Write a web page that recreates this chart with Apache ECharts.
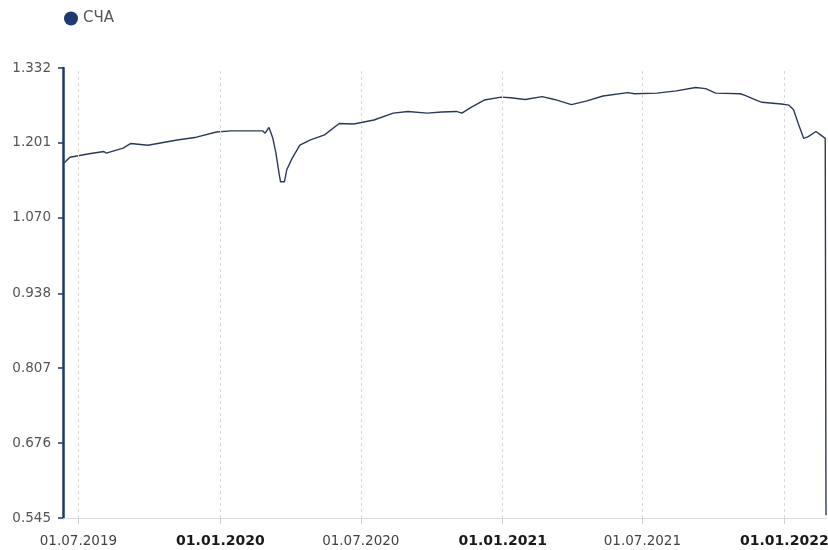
<!DOCTYPE html>
<html>
<head>
<meta charset="utf-8">
<script src="https://cdn.jsdelivr.net/npm/echarts@6/dist/echarts.min.js"></script>
<style>
html,body{margin:0;padding:0;background:#fff;}
#chart{width:828px;height:550px;}
</style>
</head>
<body>
<div id="chart"></div>
<script>
const seriesName = 'СЧА';
const dates = [
  '2019-06-11','2019-06-14','2019-06-20','2019-07-15','2019-08-03','2019-08-06','2019-08-28','2019-09-07',
  '2019-09-29','2019-11-06','2019-12-01','2019-12-27','2020-01-15','2020-02-25','2020-02-28','2020-03-04',
  '2020-03-09','2020-03-13','2020-03-17','2020-03-19','2020-03-24','2020-03-27','2020-04-03','2020-04-13',
  '2020-04-26','2020-05-15','2020-06-03','2020-06-22','2020-07-18','2020-08-12','2020-08-31','2020-09-25',
  '2020-10-14','2020-11-02','2020-11-09','2020-11-22','2020-12-08','2020-12-30','2021-01-11','2021-01-30',
  '2021-02-21','2021-03-09','2021-03-31','2021-04-19','2021-05-11','2021-06-12','2021-06-21','2021-07-20',
  '2021-08-14','2021-09-08','2021-09-21','2021-10-04','2021-11-05','2021-11-11','2021-11-27','2021-12-03',
  '2021-12-28','2022-01-07','2022-01-13','2022-01-19','2022-01-26','2022-02-01','2022-02-11','2022-02-17',
  '2022-02-23','2022-02-24'
];
const values = [
  1.166,1.168,1.176,1.182,1.186,1.183,1.192,1.200,
  1.197,1.206,1.211,1.220,1.222,1.222,1.218,1.228,
  1.209,1.183,1.148,1.133,1.133,1.154,1.174,1.197,
  1.206,1.215,1.235,1.234,1.241,1.253,1.256,1.253,
  1.255,1.256,1.253,1.264,1.276,1.281,1.280,1.277,
  1.282,1.277,1.268,1.274,1.283,1.289,1.287,1.288,
  1.292,1.298,1.296,1.288,1.287,1.284,1.275,1.272,
  1.269,1.267,1.259,1.235,1.209,1.212,1.221,1.215,
  1.209,0.550
];
const xTickDates = ['2019-07-01','2020-01-01','2020-07-01','2021-01-01','2021-07-01','2022-01-01'];
const yTicks = [0.545, 0.676, 0.807, 0.938, 1.070, 1.201, 1.332];
const xMinDate = '2019-06-11';
const xMaxDate = '2022-02-24';

const ts = s => echarts.number.parseDate(s).getTime();
const xTicks = xTickDates.map(ts);
const seriesData = dates.map((d, i) => [ts(d), values[i]]);
const pad = n => (n < 10 ? '0' : '') + n;
const FONT = 'DejaVu Sans';

const chart = echarts.init(document.getElementById('chart'), null, {renderer: 'canvas'});
chart.setOption({
  animation: false,
  backgroundColor: '#fff',
  legend: {
    data: [seriesName],
    left: 64, top: 11, padding: 0,
    icon: 'circle', itemWidth: 14, itemHeight: 14, itemGap: 10,
    textStyle: {color: '#555', fontSize: 15, fontFamily: FONT}
  },
  grid: {left: 63, right: 2, top: 68, bottom: 32, containLabel: false, outerBoundsMode: 'none'},
  xAxis: {
    type: 'value',
    min: ts(xMinDate), max: ts(xMaxDate),
    axisLine: {show: true, lineStyle: {color: '#dcdcdc', width: 1}},
    axisTick: {show: true, customValues: xTicks, length: 6, lineStyle: {color: '#cfcfcf'}},
    splitLine: {show: false},
    axisLabel: {
      customValues: xTicks,
      margin: 16,
      formatter: function (v) {
        const d = new Date(v);
        const s = pad(d.getDate()) + '.' + pad(d.getMonth() + 1) + '.' + d.getFullYear();
        return d.getMonth() === 0 ? '{b|' + s + '}' : '{n|' + s + '}';
      },
      rich: {
        n: {fontFamily: FONT, fontSize: 13.5, color: '#444'},
        b: {fontFamily: FONT, fontSize: 14, fontWeight: 'bold', color: '#1a1a1a'}
      }
    }
  },
  yAxis: {
    type: 'value',
    min: yTicks[0], max: yTicks[yTicks.length - 1],
    axisLine: {show: true, lineStyle: {color: '#1d3a6e', width: 2.5}},
    axisTick: {show: true, customValues: yTicks, length: 5, lineStyle: {color: '#1d3a6e', width: 1.5}},
    splitLine: {show: false},
    axisLabel: {
      customValues: yTicks,
      margin: 12,
      color: '#555', fontSize: 13.5, fontFamily: FONT,
      formatter: v => v.toFixed(3)
    }
  },
  series: [{
    name: seriesName,
    type: 'line',
    data: seriesData,
    showSymbol: false,
    symbol: 'circle',
    itemStyle: {color: '#1e3a70'},
    lineStyle: {color: '#2c3a58', width: 1.4},
    clip: true,
    markLine: {
      silent: true,
      symbol: ['none', 'none'],
      label: {show: false},
      lineStyle: {type: [3, 3], color: '#dadada', width: 1},
      data: xTicks.map(t => ({xAxis: t}))
    }
  }]
});
</script>
</body>
</html>
